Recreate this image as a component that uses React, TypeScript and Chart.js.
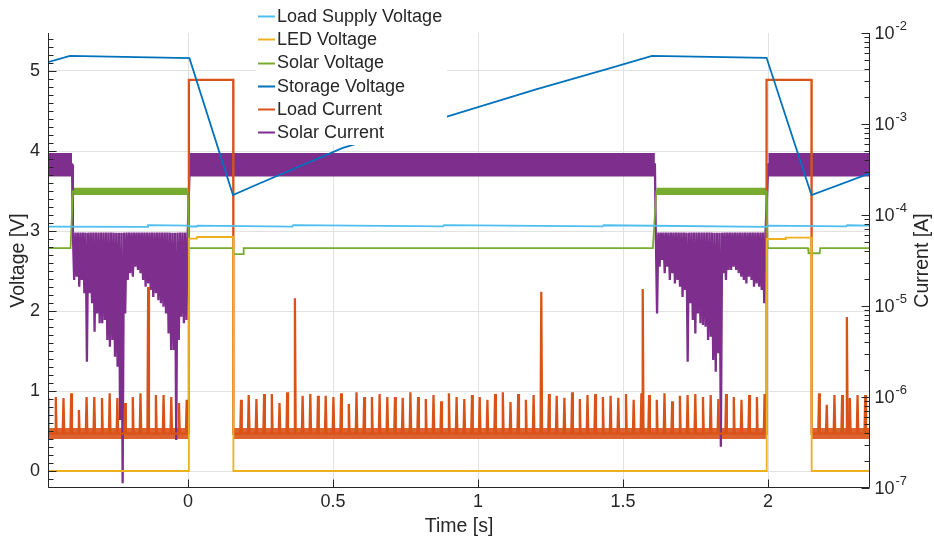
import { useEffect, useRef } from 'react';
import { Chart, registerables } from 'chart.js';

Chart.register(...registerables);

const FONT_FAMILY = '"Liberation Sans", Arial, Helvetica, sans-serif';
const INK = '#262626';
const GRID_COLOR = '#e2e2e2';

const SERIES_NAMES = ['Load Supply Voltage', 'LED Voltage', 'Solar Voltage', 'Storage Voltage', 'Load Current', 'Solar Current'];
const SERIES_COLORS = ['#4DBEEE', '#EDB120', '#77AC30', '#0072BD', '#D95319', '#7E2F8E'];

// Axis limits: time [s], voltage [V], current [A]
const T_MIN = -0.4828;
const T_MAX = 2.3517;
const V_MIN = -0.2125;
const V_MAX = 5.475;
const I_MIN = 1e-7;
const I_MAX = 1e-2;

const timeTicks = [0, 0.5, 1, 1.5, 2];
const voltageTicks = [0, 1, 2, 3, 4, 5];
const currentDecades = [-7, -6, -5, -4, -3, -2];

// Storage voltage [V]
const storageTime = [-0.4828, -0.407, 0.005, 0.155, 0.25, 0.534, 0.893, 1.2, 1.45, 1.6, 1.995, 2.15, 2.3517];
const storageVolts = [5.11, 5.19, 5.16, 3.45, 3.6, 4.04, 4.43, 4.77, 5.03, 5.19, 5.165, 3.45, 3.72];

// Load supply voltage [V]
const supplyTime = [-0.4828, -0.141, -0.138, 0.003, 0.006, 0.03, 0.033, 0.36, 0.363, 0.88, 0.883, 1.43, 1.433, 1.995, 1.998, 2.27, 2.273, 2.3517];
const supplyVolts = [3.054, 3.052, 3.074, 3.068, 3.056, 3.056, 3.066, 3.055, 3.074, 3.058, 3.073, 3.058, 3.072, 3.052, 3.068, 3.058, 3.072, 3.068];

// LED voltage [V]
const ledTime = [-0.4828, 0.003, 0.0035, 0.03, 0.031, 0.156, 0.1565, 1.995, 1.9955, 2.06, 2.061, 2.15, 2.1505, 2.3517];
const ledVolts = [0, 0, 2.905, 2.905, 2.925, 2.925, 0, 0, 2.9, 2.9, 2.916, 2.916, 0, 0];

// Solar voltage [V]
const solarVTime = [-0.4828, -0.405, -0.397, -0.001, 0.003, 0.155, 0.157, 0.19, 0.192, 1.603, 1.615, 1.995, 1.999, 2.138, 2.14, 2.178, 2.18, 2.3517];
const solarVVolts = [2.785, 2.785, 3.495, 3.495, 2.785, 2.785, 2.712, 2.712, 2.785, 2.785, 3.495, 3.495, 2.785, 2.785, 2.722, 2.722, 2.785, 2.785];
// Ripple envelope of the solar voltage while the harvester is regulating
const solarRippleSpans = [[-0.397, -0.001], [1.615, 1.995]];
const solarRippleLow = 3.45;
const solarRippleHigh = 3.54;

// Load current [A]: LED pulses, quiescent floor and periodic wake-up spikes
const loadPulseSpans = [[0.003, 0.156], [1.995, 2.15]];
const loadPulseAmps = 3.05e-3;
const loadFloorSpans = [[T_MIN, 0.003], [0.156, 1.995], [2.15, T_MAX]];
const loadFloorLow = 3.45e-7;
const loadFloorHigh = 4.55e-7;
const loadFloorMid = 3.95e-7;
const loadSpikePeriod = 0.02655;
const loadSpikeStarts = [-0.4825, 0.1828, 2.176];
const loadSpikesBefore = [9.75e-7, 1.0e-6, 9.75e-7, 1.1e-6, 7.2e-7, 1.0e-6, 1.0e-6, 9.75e-7, 1.1e-6, 9.75e-7, 8.6e-7, 1.0e-6, 1.1e-6, 1.62e-5, 1.05e-6, 1.05e-6, 1.0e-6, 8.6e-7, 9.3e-7];
const loadSpikesBetween = [
  9.3e-7, 1.05e-6, 9.5e-7, 1.08e-6, 1.08e-6, 8.6e-7, 1.13e-6, 1.22e-5, 1.03e-6, 1.08e-6,
  1.03e-6, 1.03e-6, 1.0e-6, 1.1e-6, 8.4e-7, 1.13e-6, 1.0e-6, 1.0e-6, 1.08e-6, 1.0e-6,
  1.0e-6, 9.8e-7, 1.13e-6, 1.0e-6, 9.5e-7, 1.05e-6, 9.0e-7, 1.1e-6, 1.0e-6, 9.5e-7,
  1.05e-6, 1.0e-6, 9.3e-7, 1.08e-6, 1.13e-6, 8.8e-7, 1.08e-6, 9.3e-7, 1.05e-6, 1.43e-5,
  1.08e-6, 1.03e-6, 9.8e-7, 1.13e-6, 9.5e-7, 1.05e-6, 1.08e-6, 1.0e-6, 1.03e-6, 9.8e-7,
  1.08e-6, 9.3e-7, 1.1e-6, 1.05e-6, 9.3e-7, 1.1e-6, 9.0e-7, 1.03e-6, 1.05e-6, 1.08e-6,
  1.0e-6, 1.05e-6, 9.5e-7, 1.08e-6, 1.0e-6, 9.3e-7, 1.05e-6, 1.0e-6, 1.08e-6,
];
const loadSpikesAfter = [1.1e-6, 8.2e-7, 1.05e-6, 1.05e-6, 9.75e-7, 1.05e-6, 1.05e-6];
const loadExtraSpikeTime = [1.568, 2.272];
const loadExtraSpikeAmps = [1.54e-5, 7.57e-6];

// Solar current [A]: steady band and the comb of pulses while charging the storage
const solarBandSpans = [[T_MIN, -0.4], [0.006, 1.61], [2.001, T_MAX]];
const solarBandLow = 2.65e-4;
const solarBandHigh = 4.8e-4;
const solarBandMid = 3.6e-4;
const solarPulseTop = 6.4e-5;
const solarPulseStep = 0.0088;
const solarPulseStarts = [-0.397, 1.613];
const solarPulsesFirst = [
  1.93e-5, 2.1e-5, 1.63e-5, 1.93e-5, 1.38e-5, 2.44e-6, 1.38e-5, 1.07e-5, 5.2e-6, 8.3e-6,
  6.45e-6, 6.45e-6, 7.0e-6, 4.23e-6, 3.57e-6, 4.23e-6, 2.77e-6, 2.15e-6, 5.6e-7, 1.13e-7,
  8.3e-6, 1.93e-5, 2.29e-5, 2.1e-5, 2.71e-5, 2.49e-5, 2.29e-5, 1.93e-5, 1.63e-5, 1.77e-5,
  1.5e-5, 1.26e-5, 1.38e-5, 1.16e-5, 1.07e-5, 9.8e-6, 8.3e-6, 5.0e-6, 3.28e-6, 3.28e-6,
  3.37e-7, 4.23e-6, 7.6e-6, 6.45e-6, 7.0e-6,
];
const solarPulsesSecond = [
  8.3e-6, 2.71e-5, 3.2e-5, 2.29e-5, 2.71e-5, 1.93e-5, 2.29e-5, 1.77e-5, 1.93e-5, 1.63e-5,
  1.26e-5, 1.5e-5, 2.44e-6, 1.07e-5, 7.0e-6, 5.0e-6, 8.3e-6, 6.45e-6, 6.2e-6, 5.9e-6,
  4.23e-6, 4.6e-6, 2.55e-6, 1.9e-6, 3.02e-6, 2.84e-7, 2.29e-5, 1.93e-5, 2.49e-5, 2.49e-5,
  2.71e-5, 2.49e-5, 2.29e-5, 2.1e-5, 1.93e-5, 1.77e-5, 2.1e-5, 1.93e-5, 1.63e-5, 1.77e-5,
  1.63e-5, 1.5e-5, 1.07e-5,
];

type P = { x: number; y: number };
const zipPoints = (xs: number[], ys: number[]): P[] => xs.map((x, i) => ({ x, y: ys[i] }));

function loadCurrentPoints(): P[] {
  const out: P[] = [{ x: T_MIN, y: loadFloorMid }, { x: T_MAX, y: loadFloorMid }];
  const w = 0.0026;
  const spike = (t: number, a: number) => {
    out.push({ x: t - w, y: loadFloorMid }, { x: t, y: a }, { x: t + w, y: loadFloorMid });
  };
  [loadSpikesBefore, loadSpikesBetween, loadSpikesAfter].forEach((train, k) => {
    train.forEach((a, i) => spike(loadSpikeStarts[k] + i * loadSpikePeriod, a));
  });
  loadExtraSpikeTime.forEach((t, i) => spike(t, loadExtraSpikeAmps[i]));
  loadPulseSpans.forEach(([a, b]) => {
    out.push({ x: a - 0.0004, y: loadFloorMid }, { x: a, y: loadPulseAmps }, { x: b, y: loadPulseAmps }, { x: b + 0.0004, y: loadFloorMid });
  });
  return out.filter((p) => p.x >= T_MIN - 0.01).sort((p, q) => p.x - q.x);
}

function solarCurrentPoints(): P[] {
  const out: P[] = [];
  const comb = (start: number, tips: number[]) => {
    tips.forEach((tip, i) => {
      out.push({ x: start + i * solarPulseStep, y: solarPulseTop });
      out.push({ x: start + (i + 0.5) * solarPulseStep, y: tip });
    });
    out.push({ x: start + tips.length * solarPulseStep, y: solarPulseTop });
  };
  out.push({ x: solarBandSpans[0][0], y: solarBandMid }, { x: solarBandSpans[0][1], y: solarBandMid });
  comb(solarPulseStarts[0], solarPulsesFirst);
  out.push({ x: solarBandSpans[1][0], y: solarBandMid }, { x: solarBandSpans[1][1], y: solarBandMid });
  comb(solarPulseStarts[1], solarPulsesSecond);
  out.push({ x: solarBandSpans[2][0], y: solarBandMid }, { x: solarBandSpans[2][1], y: solarBandMid });
  return out;
}

// Pair of datasets: lower edge, then upper edge filled down to it
function bandPair(spans: number[][], low: number, high: number, color: string, axis: string) {
  const sets: any[] = [];
  spans.forEach(([a, b]) => {
    sets.push({
      data: [{ x: a, y: low }, { x: b, y: low }],
      yAxisID: axis, borderWidth: 0, borderColor: color, fill: false, pointRadius: 0,
    });
    sets.push({
      data: [{ x: a, y: high }, { x: b, y: high }],
      yAxisID: axis, borderWidth: 0, borderColor: color, backgroundColor: color, fill: '-1', pointRadius: 0,
    });
  });
  return sets;
}

const axesPlugin = {
  id: 'scopeAxes',
  beforeDraw(chart: any) {
    const { ctx, width, height } = chart;
    ctx.save();
    ctx.fillStyle = '#ffffff';
    ctx.fillRect(0, 0, width, height);
    ctx.restore();
  },
  afterDatasetsDraw(chart: any) {
    const { ctx, chartArea: a } = chart;
    const sx = chart.scales.x;
    const sy = chart.scales.y;
    const sr = chart.scales.y1;
    const L = Math.round(a.left) + 0.5;
    const R = Math.round(a.right) - 0.5;
    const B = Math.round(a.bottom) - 0.5;
    ctx.save();
    ctx.strokeStyle = INK;
    ctx.lineWidth = 1;
    ctx.beginPath();
    ctx.moveTo(L, a.top);
    ctx.lineTo(L, B);
    ctx.lineTo(R, B);
    ctx.lineTo(R, a.top);
    timeTicks.forEach((t) => {
      const x = Math.round(sx.getPixelForValue(t)) + 0.5;
      ctx.moveTo(x, B);
      ctx.lineTo(x, B - 8);
    });
    for (let k = Math.ceil(V_MIN * 10); k <= Math.floor(V_MAX * 10); k++) {
      const y = Math.round(sy.getPixelForValue(k / 10)) + 0.5;
      const len = k % 10 === 0 ? 8 : 5;
      ctx.moveTo(L, y);
      ctx.lineTo(L + len, y);
    }
    currentDecades.forEach((d) => {
      for (let m = 1; m <= 9; m++) {
        if (d === currentDecades[currentDecades.length - 1] && m > 1) break;
        const y = Math.round(sr.getPixelForValue(m * Math.pow(10, d))) + 0.5;
        const len = m === 1 ? 8 : 5;
        ctx.moveTo(R, y);
        ctx.lineTo(R - len, y);
      }
    });
    ctx.stroke();

    // Right axis decade labels with raised exponents
    ctx.fillStyle = INK;
    ctx.textBaseline = 'middle';
    ctx.textAlign = 'left';
    currentDecades.forEach((d) => {
      const y = sr.getPixelForValue(Math.pow(10, d));
      ctx.font = `18px ${FONT_FAMILY}`;
      const x0 = R + 5;
      ctx.fillText('10', x0, y + 1);
      const w = ctx.measureText('10').width;
      ctx.font = `13px ${FONT_FAMILY}`;
      ctx.fillText(String(d), x0 + w + 1, y - 7);
    });

    // Axis titles
    ctx.font = `19.5px ${FONT_FAMILY}`;
    ctx.textAlign = 'center';
    ctx.textBaseline = 'middle';
    ctx.fillText('Time [s]', (a.left + a.right) / 2, 527);
    const midY = (a.top + a.bottom) / 2;
    ctx.save();
    ctx.translate(19, midY);
    ctx.rotate(-Math.PI / 2);
    ctx.fillText('Voltage [V]', 0, 0);
    ctx.restore();
    ctx.save();
    ctx.translate(923, midY);
    ctx.rotate(-Math.PI / 2);
    ctx.fillText('Current [A]', 0, 0);
    ctx.restore();
    ctx.restore();
  },
};

const legendPlugin = {
  id: 'boxLegend',
  afterDraw(chart: any) {
    const { ctx } = chart;
    ctx.save();
    ctx.fillStyle = '#ffffff';
    ctx.fillRect(256, 3, 191, 142);
    ctx.font = `18px ${FONT_FAMILY}`;
    ctx.textBaseline = 'middle';
    ctx.textAlign = 'left';
    SERIES_NAMES.forEach((name, i) => {
      const y = 16 + i * 23.25;
      ctx.strokeStyle = SERIES_COLORS[i];
      ctx.lineWidth = 2;
      ctx.beginPath();
      ctx.moveTo(258, Math.round(y) + 0.5);
      ctx.lineTo(275, Math.round(y) + 0.5);
      ctx.stroke();
      ctx.fillStyle = INK;
      ctx.fillText(name, 277, y + 1);
    });
    ctx.restore();
  },
};

export default function App() {
  const canvasRef = useRef<HTMLCanvasElement | null>(null);

  useEffect(() => {
    const canvas = canvasRef.current;
    if (!canvas) return;
    const line = (i: number, data: P[], axis: string, width = 1.8) => ({
      label: SERIES_NAMES[i],
      data,
      yAxisID: axis,
      borderColor: SERIES_COLORS[i],
      backgroundColor: SERIES_COLORS[i],
      borderWidth: width,
      pointRadius: 0,
      fill: false,
      tension: 0,
    });
    const datasets: any[] = [
      line(0, zipPoints(supplyTime, supplyVolts), 'y'),
      line(1, zipPoints(ledTime, ledVolts), 'y'),
      line(2, zipPoints(solarVTime, solarVVolts), 'y'),
      line(3, zipPoints(storageTime, storageVolts), 'y'),
      line(4, loadCurrentPoints(), 'y1', 2.3),
      line(5, solarCurrentPoints(), 'y1', 2.3),
      ...bandPair(solarRippleSpans, solarRippleLow, solarRippleHigh, SERIES_COLORS[2], 'y'),
      ...bandPair(loadFloorSpans, loadFloorLow, loadFloorHigh, 'rgba(217,83,25,0.9)', 'y1'),
      ...bandPair(solarBandSpans, solarBandLow, solarBandHigh, SERIES_COLORS[5], 'y1'),
    ];
    const tickFont = { family: FONT_FAMILY, size: 18 };
    const chart = new Chart(canvas, {
      type: 'line',
      data: { datasets },
      plugins: [axesPlugin, legendPlugin],
      options: {
        responsive: false,
        animation: false,
        layout: { padding: { top: 33, left: 0, right: 0, bottom: 0 } },
        plugins: { legend: { display: false }, tooltip: { enabled: false } },
        elements: { point: { radius: 0 }, line: { tension: 0 } },
        scales: {
          x: {
            type: 'linear',
            min: T_MIN,
            max: T_MAX,
            afterBuildTicks: (s: any) => { s.ticks = timeTicks.map((v) => ({ value: v })); },
            afterFit: (s: any) => { s.height = 56; },
            grid: { color: GRID_COLOR, drawTicks: false },
            border: { display: false },
            ticks: {
              font: tickFont, color: INK, padding: 3, maxRotation: 0, autoSkip: false,
              callback: (v: any) => String(Number(v)),
            },
          },
          y: {
            type: 'linear',
            position: 'left',
            min: V_MIN,
            max: V_MAX,
            afterBuildTicks: (s: any) => { s.ticks = voltageTicks.map((v) => ({ value: v })); },
            afterFit: (s: any) => { s.width = 48; },
            grid: { color: GRID_COLOR, drawTicks: false },
            border: { display: false },
            ticks: { font: tickFont, color: INK, padding: 8, callback: (v: any) => String(Number(v)) },
          },
          y1: {
            type: 'logarithmic',
            position: 'right',
            min: I_MIN,
            max: I_MAX,
            afterFit: (s: any) => { s.width = 64; },
            grid: { display: false, drawTicks: false },
            border: { display: false },
            ticks: { display: false },
          },
        },
      } as any,
    });
    return () => chart.destroy();
  }, []);

  return (
    <div style={{ position: 'absolute', left: 0, top: 0, width: 934, height: 544, background: '#fff' }}>
      <canvas ref={canvasRef} width={934} height={544} style={{ width: 934, height: 544, display: 'block' }} />
    </div>
  );
}
